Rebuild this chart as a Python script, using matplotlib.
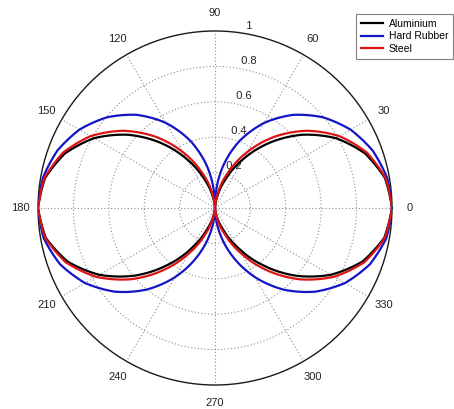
import numpy as np
import matplotlib
matplotlib.use("Agg")
import matplotlib.pyplot as plt

plt.rcParams['font.family'] = ['Liberation Sans', 'DejaVu Sans']

# Polar angle (degrees) at which each radiation sample was taken
angle_deg = [0, 10, 20, 30, 40, 50, 60, 70, 80, 85, 90, 95, 100, 110, 120, 130, 140,
             150, 160, 170, 180, 190, 200, 210, 220, 230, 240, 250, 260, 265, 270,
             275, 280, 290, 300, 310, 320, 330, 340, 350, 360]

# Normalised amplitude for each material
aluminium = [1.000, 0.975, 0.902, 0.789, 0.644, 0.482, 0.319, 0.170, 0.056, 0.018, 0.000,
             0.018, 0.056, 0.170, 0.319, 0.482, 0.644, 0.789, 0.902, 0.975, 1.000,
             0.971, 0.886, 0.755, 0.595, 0.422, 0.259, 0.123, 0.033, 0.009, 0.000,
             0.009, 0.033, 0.123, 0.259, 0.422, 0.595, 0.755, 0.886, 0.971, 1.000]
hard_rubber = [1.000, 0.987, 0.948, 0.885, 0.797, 0.687, 0.555, 0.402, 0.226, 0.126, 0.000,
               0.126, 0.226, 0.402, 0.555, 0.687, 0.797, 0.885, 0.948, 0.987, 1.000,
               0.983, 0.931, 0.848, 0.736, 0.602, 0.451, 0.291, 0.134, 0.060, 0.000,
               0.060, 0.134, 0.291, 0.451, 0.602, 0.736, 0.848, 0.931, 0.983, 1.000]
steel = [1.000, 0.978, 0.914, 0.812, 0.679, 0.527, 0.366, 0.211, 0.079, 0.029, 0.000,
         0.029, 0.079, 0.211, 0.366, 0.527, 0.679, 0.812, 0.914, 0.978, 1.000,
         0.974, 0.897, 0.777, 0.627, 0.461, 0.297, 0.153, 0.047, 0.014, 0.000,
         0.014, 0.047, 0.153, 0.297, 0.461, 0.627, 0.777, 0.897, 0.974, 1.000]

series_names = ['Aluminium', 'Hard Rubber', 'Steel']
series_colors = ['#000000', '#1414c8', '#dc1414']

ring_values = [0.2, 0.4, 0.6, 0.8, 1.0]
ring_labels = ['0.2', '0.4', '0.6', '0.8', '1']
spoke_deg = [0, 30, 60, 90, 120, 150, 180, 210, 240, 270, 300, 330]
spoke_labels = ['0', '30', '60', '90', '120', '150', '180', '210', '240', '270', '300', '330']

fig = plt.figure(figsize=(4.54, 4.09), dpi=100)
ax = fig.add_axes([38 / 454, 24 / 409, 354 / 454, 354 / 409], projection='polar')
ax.set_ylim(0, 1)
ax.set_thetagrids(spoke_deg, labels=[''] * len(spoke_deg))
ax.set_rgrids(ring_values[:-1], labels=[''] * (len(ring_values) - 1))
ax.grid(True, linestyle=(0, (1, 2)), color='#8c8c8c', linewidth=0.8)
ax.tick_params(length=0)
ax.set_axisbelow(True)
ax.spines['polar'].set_color('#1a1a1a')
ax.spines['polar'].set_linewidth(1.0)

text_color = '#222222'
for r, lab in zip(ring_values, ring_labels):
    ax.text(np.deg2rad(82), r + 0.01, '  ' + lab, ha='left', va='bottom',
            fontsize=8, color=text_color, zorder=1)
for d, lab in zip(spoke_deg, spoke_labels):
    ax.text(np.deg2rad(d), 1.1, lab, ha='center', va='center',
            fontsize=8, color=text_color, clip_on=False)

theta = np.deg2rad(angle_deg)
for vals, name, col in zip([aluminium, hard_rubber, steel], series_names, series_colors):
    line, = ax.plot(theta, vals, color=col, linewidth=1.6, label=name, zorder=3)
    # let the polar transform curve each segment between samples
    line.get_path()._interpolation_steps = 24

leg = fig.legend(loc='upper right', bbox_to_anchor=(453 / 454, 1 - 14 / 409),
                 fontsize=7.5, frameon=True, fancybox=False, framealpha=1,
                 edgecolor='#808080', handlelength=2.1, handletextpad=0.6,
                 labelspacing=0.25, borderpad=0.45, borderaxespad=0)
leg.get_frame().set_linewidth(0.8)

fig.savefig('out.png', dpi=100, facecolor='white')
